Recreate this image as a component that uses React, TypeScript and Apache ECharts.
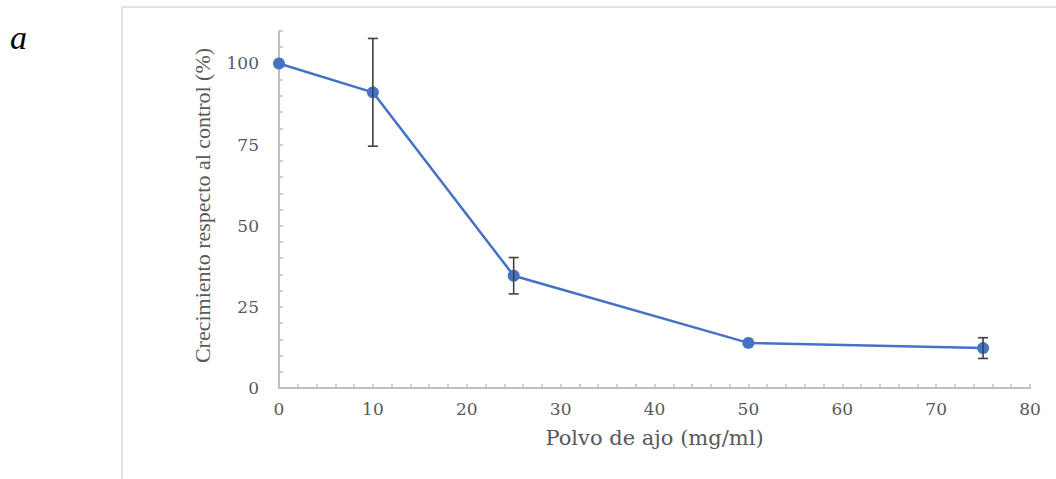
import React, { useEffect, useRef } from "react";
import * as echarts from "echarts";

const doses = [0, 10, 25, 50, 75];
const growth = [100, 91.1, 34.6, 13.9, 12.3];
const errors = [0, 16.6, 5.6, 0, 3.2];
const xName = "Polvo de ajo (mg/ml)";
const yName = "Crecimiento respecto al control (%)";
const panelLabel = "a";

export default function App() {
  const ref = useRef<HTMLDivElement>(null);
  useEffect(() => {
    document.body.style.margin = "0";
    const chart = echarts.init(ref.current!, null, { renderer: "svg" });
    const font = "'DejaVu Serif', serif";
    const grey = "#595959";
    const axisColor = "#bfbfbf";
    const errData = doses
      .map((d, i) => [d, growth[i] - errors[i], growth[i] + errors[i]])
      .filter((_, i) => errors[i] > 0);
    chart.setOption({
      animation: false,
      backgroundColor: "#ffffff",
      grid: { left: 279, right: 26, top: 31, bottom: 91, containLabel: false },
      graphic: [
        {
          type: "rect",
          shape: { x: 122, y: 7, width: 1100, height: 600 },
          style: { fill: "none", stroke: "#d9d9d9", lineWidth: 1.5 },
          silent: true,
        },
        {
          type: "text",
          left: 10,
          top: 20,
          style: {
            text: panelLabel,
            font: "italic 34px 'Liberation Serif', serif",
            fill: "#000000",
          },
        },
      ],
      xAxis: {
        type: "value",
        min: 0,
        max: 80,
        interval: 2,
        name: xName,
        nameLocation: "middle",
        nameGap: 39,
        nameTextStyle: { fontFamily: font, fontSize: 21, color: grey },
        axisLine: { lineStyle: { color: axisColor, width: 2 } },
        axisTick: { show: true, inside: true, length: 4, lineStyle: { color: axisColor, width: 1.5 } },
        axisLabel: {
          fontFamily: font,
          fontSize: 17,
          color: grey,
          margin: 12,
          formatter: (v: number) => (v % 10 === 0 ? String(v) : ""),
        },
        splitLine: { show: false },
      },
      yAxis: {
        type: "value",
        min: 0,
        max: 110,
        interval: 5,
        name: yName,
        nameLocation: "middle",
        nameGap: 66,
        nameTextStyle: {
          fontFamily: "'Liberation Serif', serif",
          fontSize: 22,
          color: grey,
          padding: [0, 0, 0, 8],
        },
        axisLine: { show: true, lineStyle: { color: axisColor, width: 2 } },
        axisTick: { show: true, inside: true, length: 4, lineStyle: { color: axisColor, width: 1.5 } },
        axisLabel: {
          fontFamily: font,
          fontSize: 17,
          color: grey,
          margin: 20,
          formatter: (v: number) => (v % 25 === 0 ? String(v) : ""),
        },
        splitLine: { show: false },
      },
      series: [
        {
          type: "line",
          data: doses.map((d, i) => [d, growth[i]]),
          symbol: "circle",
          symbolSize: 12,
          itemStyle: { color: "#4472c4" },
          lineStyle: { color: "#4472c4", width: 2.5 },
          z: 2,
        },
        {
          type: "custom",
          z: 3,
          data: errData,
          renderItem: (params: any, api: any) => {
            const x = api.value(0);
            const lo = api.coord([x, api.value(1)]);
            const hi = api.coord([x, api.value(2)]);
            const w = 5;
            const style = { stroke: "#404040", lineWidth: 1.6 };
            return {
              type: "group",
              children: [
                { type: "line", shape: { x1: lo[0], y1: lo[1], x2: hi[0], y2: hi[1] }, style },
                { type: "line", shape: { x1: lo[0] - w, y1: lo[1], x2: lo[0] + w, y2: lo[1] }, style },
                { type: "line", shape: { x1: hi[0] - w, y1: hi[1], x2: hi[0] + w, y2: hi[1] }, style },
              ],
            };
          },
        },
      ],
    });
    return () => chart.dispose();
  }, []);
  return <div ref={ref} style={{ width: 1056, height: 479 }} />;
}
